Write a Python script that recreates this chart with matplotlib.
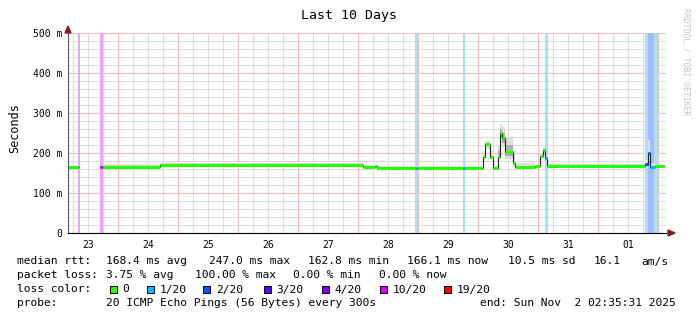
import numpy as np
import matplotlib
matplotlib.use("Agg")
import matplotlib.pyplot as plt
from matplotlib.patches import Rectangle, Polygon

W, H = 697, 321
MONO = "DejaVu Sans Mono"

# ---- data (time in days since Oct 23 00:00, rtt in ms) ----
seg_edges = [0.167, 0.342, 0.358, 0.708, 0.758, 1.70, 5.083, 5.28, 5.32, 5.967,
             6.0, 6.75, 6.783, 7.078, 7.117, 7.20, 7.25, 7.333, 7.367, 7.40,
             7.45, 7.583, 7.617, 7.95, 8.033, 8.083, 8.117, 8.15, 9.783, 9.833,
             9.867, 9.95, 10.108]
seg_rtt = [164, 164, np.nan, 164, 164, 169.5, 164, 167, 163.5, 163.5,
           163.5, 163.5, 163.5, 191, 222, 191, 163, 191, 249, 237,
           202, 174, 164, 167, 192, 207, 188, 167.5, 172, 199,
           166, 167]
seg_loss = [0, 5, 0, 5, 0, 0, 0, 0, 0, 1,
            0, 1, 0, 0, 0, 0, 0, 0, 0, 0,
            0, 0, 0, 0, 0, 0, 1, 0, 2, 2,
            1, 0]
smoke_hi = [166, 165, np.nan, 165, 172, 175, 168, 170, 168, 168,
            168, 168, 168, 202, 230, 205, 168, 218, 272, 265,
            240, 205, 176, 171, 200, 214, 196, 172, 182, 232,
            174, 170]
smoke_lo = [163, 163, np.nan, 163, 163, 168, 163, 165, 162, 162,
            162, 162, 162, 185, 210, 185, 161, 185, 225, 215,
            185, 168, 162, 165, 186, 195, 182, 166, 166, 180,
            164, 165]

band_start = [0.333, 0.70, 5.958, 6.75, 8.117, 9.783, 9.825]
band_end = [0.367, 0.758, 6.008, 6.783, 8.167, 10.008, 9.925]
band_color = ["#f0a4f8", "#f0a4f8", "#a4e2f8", "#a4e2f8", "#a4e2f8", "#a4e2f8", "#a8b8f8"]

loss_labels = ["0", "1/20", "2/20", "3/20", "4/20", "10/20", "19/20"]
loss_colors = ["#26ff00", "#00b8ff", "#0059ff", "#5e00ff", "#7e00ff", "#dd00ff", "#ff0000"]

day_labels = ["23", "24", "25", "26", "27", "28", "29", "30", "31", "01"]
y_ticks = [0, 100, 200, 300, 400, 500]
y_labels = ["0", "100 m", "200 m", "300 m", "400 m", "500 m"]

fig = plt.figure(figsize=(W / 100, H / 100), dpi=100)
fig.patch.set_facecolor("white")

ax = fig.add_axes([68 / W, (H - 233) / H, 598 / W, 200 / H])
ax.set_xlim(0.167, 10.133)
ax.set_ylim(0, 500)

# grid
for t in np.arange(0, 10.5, 0.25):
    ax.axvline(t, color="#dcdcdc", lw=0.75, zorder=1)
for v in range(0, 501, 20):
    ax.axhline(v, color="#dcdcdc", lw=0.75, zorder=1)
for t in range(1, 11):
    ax.axvline(t, color="#f4bcbc", lw=0.75, zorder=1.5)
for v in range(100, 501, 100):
    ax.axhline(v, color="#f4bcbc", lw=0.75, zorder=1.5)

# loss bands
for s, e, c in zip(band_start, band_end, band_color):
    ax.axvspan(s, e, color=c, lw=0, zorder=2)

# smoke
edges = np.array(seg_edges)
hi = np.array(smoke_hi + [smoke_hi[-1]])
lo = np.array(smoke_lo + [smoke_lo[-1]])
ax.fill_between(edges, lo, hi, step="post", color="#dedede", lw=0, zorder=3)
mid = np.array(seg_rtt + [seg_rtt[-1]])
ax.fill_between(edges, (lo + mid) / 2, (hi + mid) / 2, step="post",
                color="#b0b0b0", lw=0, zorder=3.1,
                where=(hi - lo) > 25)

# median
ax.step(edges, mid, where="post", color="#202020", lw=0.8, zorder=4)
ax.hlines(seg_rtt, edges[:-1], edges[1:], colors=[loss_colors[i] for i in seg_loss],
          lw=2.2, zorder=5)

# axes styling
for sp in ["top", "right"]:
    ax.spines[sp].set_visible(False)
ax.spines["left"].set_color("#4c5866")
ax.spines["bottom"].set_color("black")
ax.spines["left"].set_zorder(6)
ax.spines["bottom"].set_zorder(6)
ax.set_xticks(np.arange(10) + 0.5)
ax.set_xticklabels(day_labels, fontsize=7, family=MONO)
ax.set_yticks(y_ticks)
ax.set_yticklabels(y_labels, fontsize=7, family=MONO)
ax.tick_params(length=0, pad=4)
ax.tick_params(axis="x", pad=5)

# overlay in pixel coords
ov = fig.add_axes([0, 0, 1, 1])
ov.set_xlim(0, W)
ov.set_ylim(H, 0)
ov.axis("off")
ov.patch.set_alpha(0)

ov.add_patch(Polygon([[65, 33], [71, 33], [68, 26]], closed=True, color="#8b1a1a"))
ov.add_patch(Polygon([[668, 230], [668, 236], [675, 233]], closed=True, color="#8b1a1a"))

ov.text(349, 16, "Last 10 Days", fontsize=9.5, family=MONO, ha="center", va="center")
ov.text(15, 128, "Seconds", fontsize=8.5, family=MONO, ha="center", va="center", rotation=90)
ov.text(686, 8, "RRDTOOL / TOBI OETIKER", fontsize=5.8, family=MONO, color="#c4c4c4",
        ha="center", va="top", rotation=270)

fs = 8.1
rows = [261.5, 275.5, 289.5, 303.5]
line1 = [(17, "median rtt:"), (106.5, "168.4 ms avg"), (209, "247.0 ms max"),
         (307.5, "162.8 ms min"), (407, "166.1 ms now"), (507.5, "10.5 ms sd"),
         (594, "16.1"), (641, "am/s")]
line2 = [(17, "packet loss:"), (106.5, "3.75 % avg"), (195, "100.00 % max"),
         (293, "0.00 % min"), (379, "0.00 % now")]
line4 = [(17, "probe:"), (106.5, "20 ICMP Echo Pings (56 Bytes) every 300s"),
         (480, "end: Sun Nov  2 02:35:31 2025")]
for y, items in zip([rows[0], rows[1], rows[3]], [line1, line2, line4]):
    for x, s in items:
        ov.text(x, y, s, fontsize=fs, family=MONO, ha="left", va="center")

ov.text(17, rows[2], "loss color:", fontsize=fs, family=MONO, ha="left", va="center")
sq_x = [109.5, 147, 203, 263.5, 321.5, 380, 444]
for x, lab, c in zip(sq_x, loss_labels, loss_colors):
    ov.add_patch(Rectangle((x, rows[2] - 3.5), 7, 7, facecolor=c, edgecolor="black", lw=0.7))
    ov.text(x + 13, rows[2], lab, fontsize=fs, family=MONO, ha="left", va="center")

fig.savefig("out.png", dpi=100)
